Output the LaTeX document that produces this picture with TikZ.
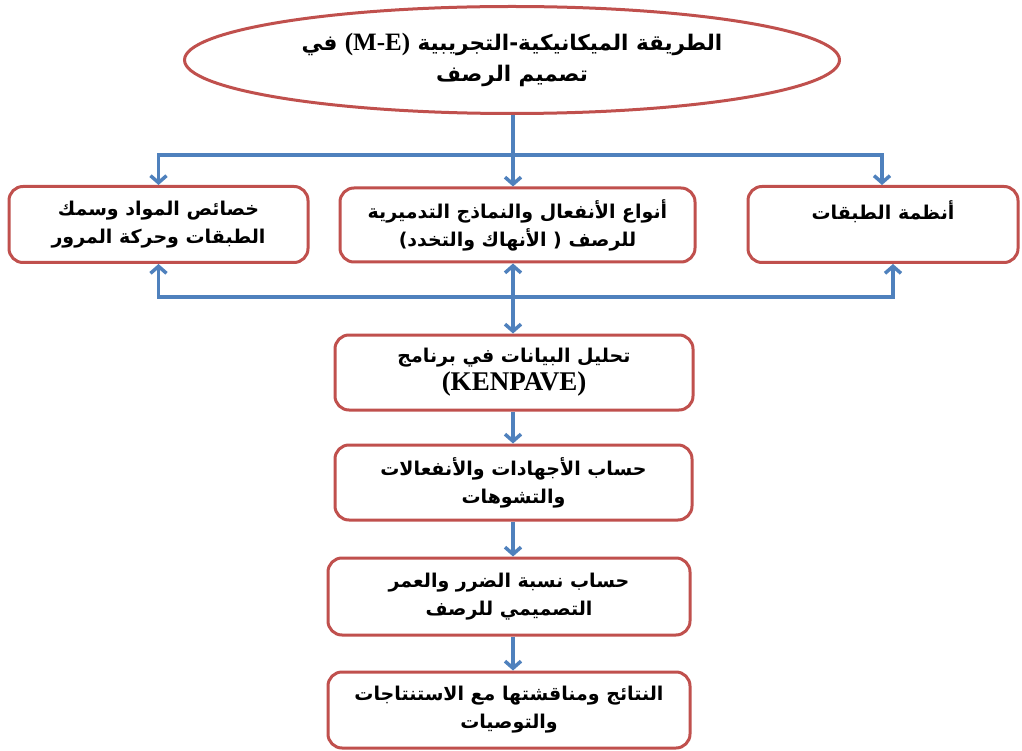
\documentclass[tikz,border=0pt]{standalone}
\usepackage{fontspec}
\usetikzlibrary{shapes.geometric,arrows.meta}
\TeXXeTstate=1
\newfontfamily\arabicfont[Script=Arabic]{DejaVu Sans}
\newfontfamily\latinfont{Liberation Serif}
\definecolor{boxred}{HTML}{C0504D}
\definecolor{arrblue}{HTML}{4F81BD}
\begin{document}
\begin{tikzpicture}[x=1pt,y=-1pt,
  box/.style={draw=boxred, line width=3pt, rounded corners=14pt, fill=white, align=center, inner sep=0pt,
    font=\arabicfont\bfseries\fontsize{19}{28}\selectfont},
  oval/.style={ellipse, draw=boxred, line width=3pt, fill=white, align=center, inner sep=0pt,
    font=\arabicfont\bfseries\fontsize{21.5}{31}\selectfont},
  arr/.style={draw=arrblue, line width=3.5pt, -{Straight Barb[length=7pt,width=16pt]}},
  darr/.style={draw=arrblue, line width=3.5pt, {Straight Barb[length=7pt,width=16pt]}-{Straight Barb[length=7pt,width=16pt]}}]
\useasboundingbox (0,0) rectangle (1022,751);
\fill[white] (0,0) rectangle (1022,751);

\node[oval, minimum width=655pt, minimum height=107pt] (ell) at (512,60)
  {\beginR الطريقة الميكانيكية-التجريبية \beginL{\latinfont\fontsize{25}{31}\selectfont (M-E)}\endL{} في\endR\\ \beginR تصميم الرصف\endR};

\node[box, minimum width=299pt, minimum height=76pt] (lbox) at (158.5,224.5)
  {\beginR خصائص المواد وسمك\endR\\ \beginR الطبقات وحركة المرور\endR};
\node[box, minimum width=355pt, minimum height=74pt] (cbox) at (517.5,225)
  {\beginR أنواع الأنفعال والنماذج التدميرية\endR\\ \beginR للرصف ( الأنهاك والتخدد)\endR};
\node[box, minimum width=270pt, minimum height=76pt] (rbox) at (883,224.5)
  {\beginR أنظمة الطبقات\endR\\ \mbox{}};
\node[box, minimum width=358pt, minimum height=75pt] (kbox) at (514,372.5)
  {\beginR تحليل البيانات في برنامج\endR\\ {\latinfont\fontsize{27}{28}\selectfont (KENPAVE)}};
\node[box, minimum width=357pt, minimum height=75pt] (sbox) at (513.5,482.5)
  {\beginR حساب الأجهادات والأنفعالات\endR\\ \beginR والتشوهات\endR};
\node[box, minimum width=362pt, minimum height=77pt] (dbox) at (509,596.5)
  {\beginR حساب نسبة الضرر والعمر\endR\\ \beginR التصميمي للرصف\endR};
\node[box, minimum width=362pt, minimum height=76pt] (fbox) at (509,710)
  {\beginR النتائج ومناقشتها مع الاستنتاجات\endR\\ \beginR والتوصيات\endR};

\coordinate (cx) at (513,0);
\coordinate (hub1) at (513,155);
\coordinate (hub2) at (513,297);

\draw[arr] (ell.south -| cx) -- (cbox.north -| cx);
\draw[arr] (hub1) -| (lbox.north);
\draw[arr] (hub1) -| ([xshift=-1pt]rbox.north);
\draw[arr] (hub2) -| (lbox.south);
\draw[arr] (hub2) -| ([xshift=10pt]rbox.south);
\draw[darr] (cbox.south -| cx) -- (kbox.north -| cx);
\draw[arr] (kbox.south -| cx) -- (sbox.north -| cx);
\draw[arr] (sbox.south -| cx) -- (dbox.north -| cx);
\draw[arr] (dbox.south -| cx) -- (fbox.north -| cx);
\end{tikzpicture}
\end{document}
